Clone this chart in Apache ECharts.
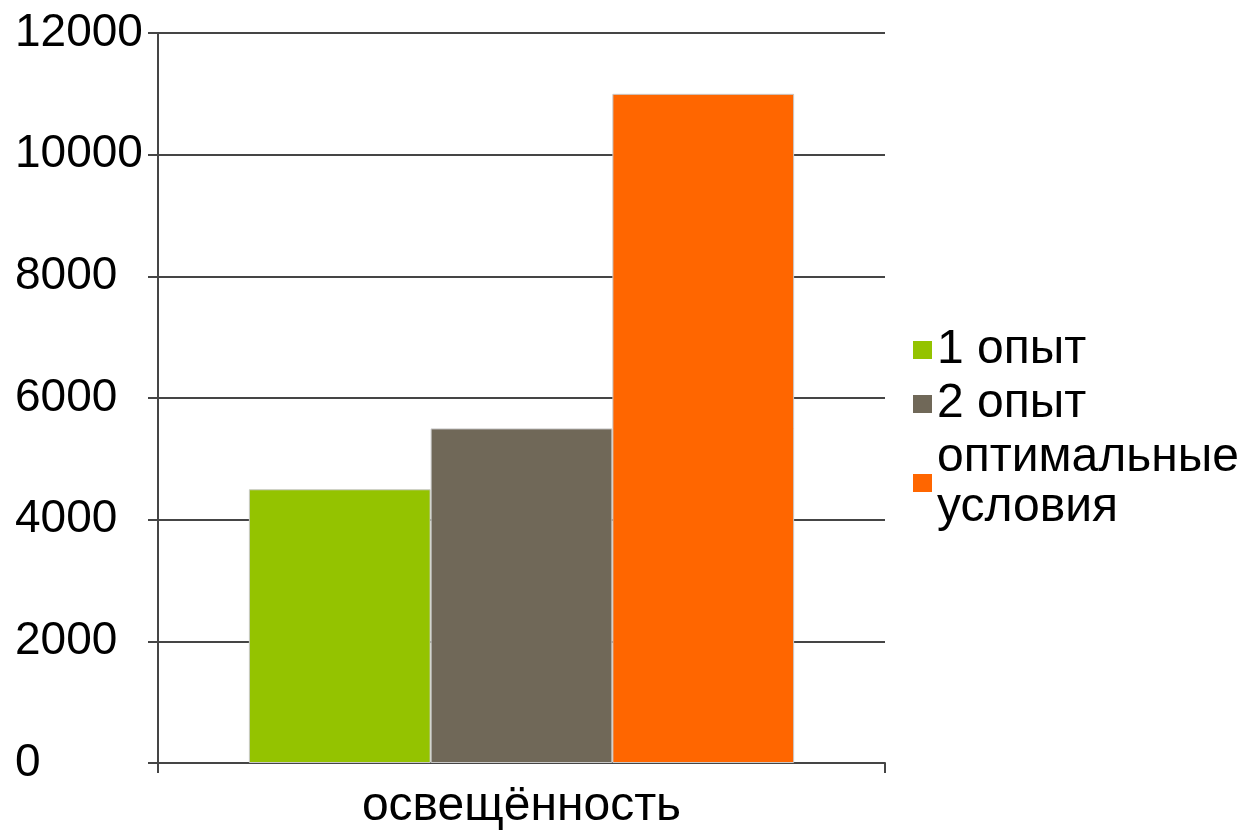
<!DOCTYPE html>
<html>
<head>
<meta charset="utf-8">
<script src="https://cdn.jsdelivr.net/npm/echarts@6/dist/echarts.min.js"></script>
<style>
html,body{margin:0;padding:0;background:#fff;}
#chart{width:1244px;height:831px;}
</style>
</head>
<body>
<div id="chart"></div>
<script>
const categories = ['освещённость'];
const seriesNames = ['1 опыт', '2 опыт', 'оптимальные\nусловия'];
const seriesColors = ['#94c300', '#706858', '#ff6600'];
const values1 = [4500];
const values2 = [5500];
const values3 = [11000];
const yTicks = [0, 2000, 4000, 6000, 8000, 10000, 12000];

const seriesValues = [values1, values2, values3];
const font = 'Liberation Sans, Arial, sans-serif';
const lineCol = '#454545';
const chart = echarts.init(document.getElementById('chart'));
chart.setOption({
  animation: false,
  backgroundColor: '#fff',
  grid: { left: 158, right: 359, top: 33, bottom: 66, containLabel: false },
  legend: {
    orient: 'vertical',
    left: 913,
    top: 325,
    padding: 0,
    itemGap: 4,
    itemWidth: 19,
    itemHeight: 18,
    icon: 'rect',
    data: seriesNames,
    itemStyle: { borderWidth: 0 },
    textStyle: { fontFamily: font, fontSize: 48, color: '#000', lineHeight: 50 }
  },
  xAxis: {
    type: 'category',
    data: categories,
    axisLine: { lineStyle: { color: lineCol, width: 2 } },
    axisTick: { show: true, length: 10, inside: false, lineStyle: { color: lineCol, width: 2 } },
    axisLabel: { fontFamily: font, fontSize: 48, color: '#000', margin: 20 }
  },
  yAxis: {
    type: 'value',
    min: yTicks[0],
    max: yTicks[yTicks.length - 1],
    interval: 2000,
    axisLine: { show: true, lineStyle: { color: lineCol, width: 2 } },
    axisTick: { show: true, length: 10, lineStyle: { color: lineCol, width: 2 } },
    splitLine: { show: true, lineStyle: { color: lineCol, width: 2 } },
    axisLabel: { fontFamily: font, fontSize: 46, color: '#000', margin: 143, align: 'left', formatter: v => String(v) }
  },
  series: seriesNames.map((name, i) => ({
    name: name,
    type: 'bar',
    data: seriesValues[i],
    barGap: '0%',
    barCategoryGap: '25%',
    itemStyle: { color: seriesColors[i], borderColor: '#c8c8c8', borderWidth: 1 }
  }))
});
</script>
</body>
</html>
